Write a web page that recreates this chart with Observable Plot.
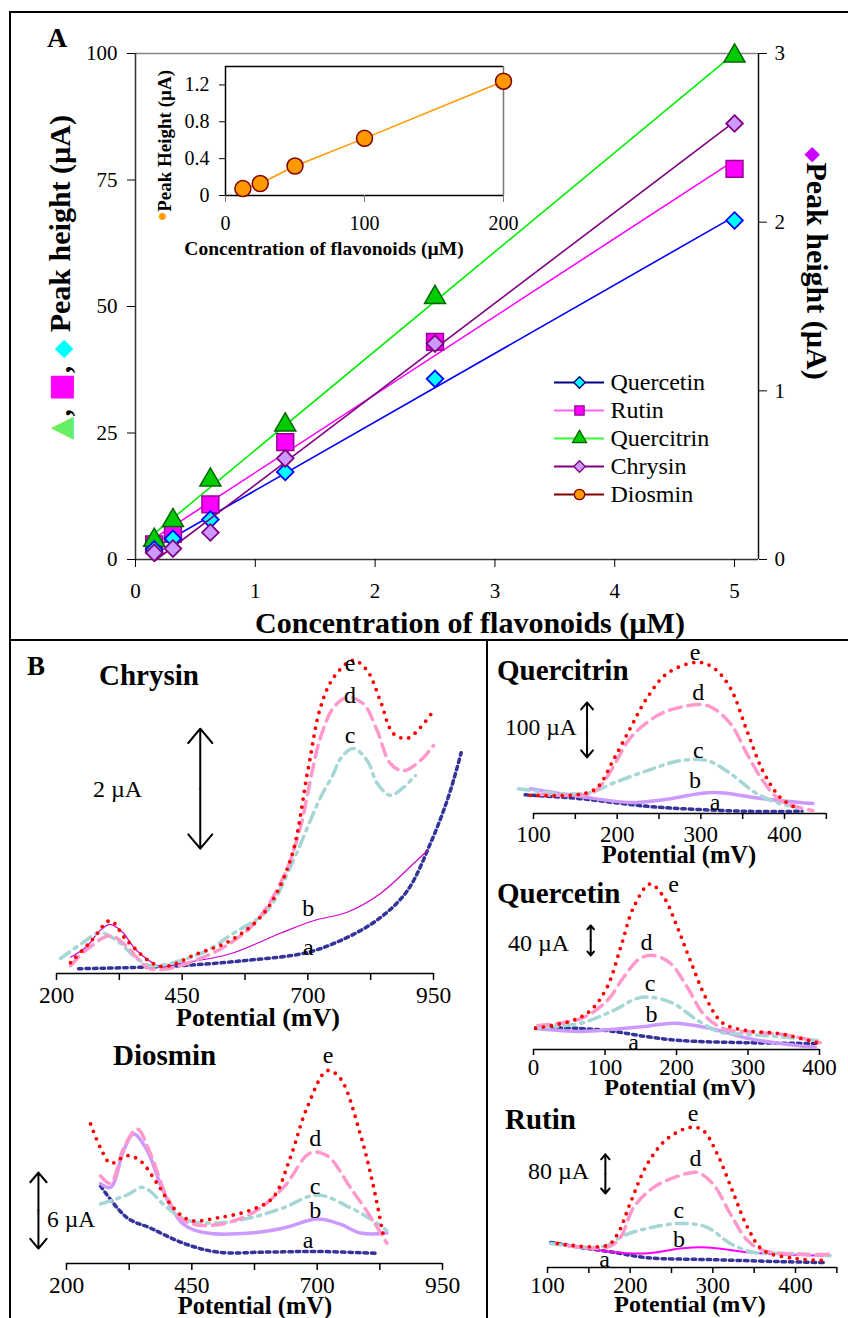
<!DOCTYPE html>
<html><head><meta charset="utf-8">
<script src="https://cdn.jsdelivr.net/npm/d3@7"></script>
<script src="https://cdn.jsdelivr.net/npm/@observablehq/plot@0.6"></script>
<style>
html,body{margin:0;padding:0;background:#fff;}
#root{position:relative;width:848px;height:1318px;overflow:hidden;background:#fff;}
#root svg{font-family:"Liberation Serif","Times New Roman",serif !important;overflow:visible;}
#root svg text{font-family:"Liberation Serif","Times New Roman",serif;}
</style></head><body><div id="root"></div>
<script>
// ---------------- DATA: panel A ----------------
const concentrations = [0.156, 0.3125, 0.625, 1.25, 2.5, 5];
const quercetinPeak  = [2.0, 4.1, 7.9, 17.3, 35.7, 67.0];
const rutinPeak      = [3.0, 5.1, 10.9, 23.2, 43.0, 77.2];
const quercitrinPeak = [3.8, 7.7, 15.7, 26.6, 51.8, 99.5];
const chrysinPeak    = [0.04, 0.065, 0.16, 0.60, 1.28, 2.585];   // right axis
const diosminConc    = [12.5, 25, 50, 100, 200];
const diosminPeak    = [0.075, 0.13, 0.32, 0.62, 1.24];
const mainYTicks = [0, 25, 50, 75, 100];
const mainXTicks = [0, 1, 2, 3, 4, 5];
const rightYTicks = [0, 1, 2, 3];
const insetYTicks = [0, 0.4, 0.8, 1.2];
const insetXTicks = [0, 100, 200];
const legendNames = ["Quercetin", "Rutin", "Quercitrin", "Chrysin", "Diosmin"];

// ---------------- DATA: panel B (potential mV, current µA) ----------------
const chrysinA = [[244,0.08],[353,0.1],[447,0.13],[580,0.22],[699,0.35],[778,0.6],[844,0.93],[898,1.38],[944,2.17],[977,2.88],[997,3.43],[1005,3.68]];
const chrysinB = [[228,0.27],[260,0.45],[287,0.72],[307,0.82],[330,0.7],[360,0.38],[407,0.12],[447,0.17],[546,0.33],[645,0.67],[711,0.88],[778,1.02],[844,1.33],[910,1.83],[938,2.05]];
const chrysinC = [[208,0.25],[250,0.5],[287,0.68],[320,0.55],[360,0.25],[387,0.13],[486,0.33],[552,0.67],[619,1.05],[671,1.88],[705,2.55],[725,2.93],[751,3.33],[765,3.58],[790,3.75],[818,3.55],[838,3.17],[864,2.97],[890,3.1],[914,3.3]];
const chrysinD = [[228,0.13],[260,0.4],[307,0.63],[340,0.45],[387,0.08],[486,0.25],[586,0.77],[651,1.6],[685,2.43],[705,3.22],[725,3.93],[751,4.43],[778,4.6],[810,4.5],[838,4.05],[864,3.5],[890,3.38],[924,3.55],[950,3.8]];
const chrysinE = [[228,0.18],[270,0.55],[307,0.88],[340,0.55],[407,0.12],[480,0.33],[546,0.55],[612,1.0],[665,1.88],[701,3.43],[725,4.43],[751,4.93],[790,5.22],[818,5.05],[844,4.55],[870,4.0],[898,3.92],[924,4.1],[950,4.38]];

const quercitrinA = [[90,34],[156,27],[195,20],[236,13],[275,9],[355,4],[421,4]];
const quercitrinB = [[96,45],[156,31],[216,20],[255,25],[315,38],[374,27],[434,18]];
const quercitrinC = [[82,45],[136,36],[168,38],[195,55],[236,78],[275,96],[308,96],[335,73],[367,36],[395,18],[419,11]];
const quercitrinD = [[105,35],[168,36],[180,50],[195,84],[216,138],[248,178],[275,193],[308,196],[335,164],[355,109],[374,60],[395,24],[434,5]];
const quercitrinE = [[96,33],[156,35],[176,47],[195,96],[216,156],[236,211],[260,255],[296,275],[315,265],[335,229],[355,151],[374,78],[395,29],[415,9]];

const quercetinA = [[3,29],[66,28],[112,24],[159,17],[205,12],[299,9],[397,8]];
const quercetinB = [[3,28],[66,24],[112,27],[159,31],[196,35],[243,29],[299,15],[345,8],[394,3]];
const quercetinC = [[6,29],[66,35],[112,52],[145,68],[168,69],[196,61],[229,39],[261,23],[299,20],[345,17],[397,12]];
const quercetinD = [[6,32],[66,41],[103,65],[126,96],[149,121],[168,125],[191,115],[215,83],[237,48],[265,28],[313,23],[355,19],[401,9]];
const quercetinE = [[3,28],[56,39],[80,52],[103,83],[122,136],[140,189],[163,220],[182,203],[201,163],[219,119],[243,65],[265,35],[299,25],[345,21],[397,9]];

const rutinA = [[104,51],[140,41],[180,31],[221,20],[300,16],[381,12],[438,10]];
const rutinB = [[104,49],[140,41],[180,31],[221,29],[261,39],[293,41],[342,31],[381,27],[442,24]];
const rutinC = [[104,49],[152,41],[172,45],[192,65],[221,80],[261,90],[293,82],[321,49],[349,31],[390,29],[442,24]];
const rutinD = [[124,45],[172,41],[188,61],[204,122],[228,163],[261,188],[281,194],[300,171],[321,110],[342,55],[361,35],[402,27],[442,27]];
const rutinE = [[112,49],[172,45],[185,69],[200,131],[221,212],[245,263],[273,286],[288,280],[305,233],[325,151],[342,82],[361,35],[402,18],[438,14]];

const diosminA = [[268,6.1],[321,3.6],[367,2.8],[433,1.6],[501,0.9],[600,0.9],[700,0.95],[820,0.8]];
const diosminB = [[268,6.3],[288,6.0],[314,8.9],[334,10.2],[361,8.9],[393,5.7],[433,3.1],[481,2.4],[567,2.4],[633,2.8],[700,3.5],[746,3.1],[786,2.4],[839,2.4]];
const diosminC = [[268,4.7],[321,5.4],[353,6.0],[401,4.4],[441,3.4],[501,3.2],[567,3.6],[633,4.4],[700,5.4],[766,4.4],[811,3.4],[839,2.6]];
const diosminD = [[268,6.9],[288,6.3],[314,9.1],[341,10.6],[367,8.7],[401,5.2],[433,3.4],[487,3.0],[567,3.9],[633,6.0],[686,8.7],[720,8.5],[766,6.0],[811,3.4],[839,1.6]];
const diosminE = [[248,11.0],[268,9.1],[288,7.9],[321,8.5],[347,8.1],[381,6.3],[413,4.4],[447,3.4],[501,3.6],[567,4.2],[612,5.2],[646,8.3],[680,12.3],[720,15.2],[746,14.6],[786,10.2],[811,6.3],[831,2.4]];

// scale bars: [potential, from µA, to µA]
const chrysinBar = [486, 2.08, 4.08];
const quercitrinBar = [164, 102, 202];
const quercetinBar = [80, 125, 165];
const rutinBar = [170, 151, 231];
const diosminBar = [144, 1.18, 7.17];

// curve labels: [letter, potential, µA]
const chrysinLabels = [["e",784,5.17],["d",784,4.63],["c",784,3.97],["b",701,1.08],["a",701,0.43]];
const quercitrinLabels = [["e",293,293],["d",297,220],["c",297,115],["b",293,60],["a",317,20]];
const quercetinLabels = [["e",196,219],["d",158,143],["c",163,88],["b",165,47],["a",140,9]];
const rutinLabels = [["e",276,314],["d",279,222],["c",259,116],["b",259,57],["a",169,16]];
const diosminLabels = [["e",722,16.4],["d",696,9.9],["c",696,6.1],["b",696,4.2],["a",682,1.8]];

const wideTicks = [200,325,450,575,700,825,950], wideLabels = [200,450,700,950];
const narrowTicks = [100,150,200,250,300,350,400,450], narrowLabels = [100,200,300,400];
const quercetinTicks = [0,100,200,300,400];

// ---------------- helpers ----------------
const SERIF = '"Liberation Serif", "Times New Roman", serif';
const root = document.getElementById("root");

function finish(svg, L, T, size) {
  svg.style.position = "absolute";
  svg.style.left = L + "px";
  svg.style.top = T + "px";
  svg.style.fontFamily = SERIF;
  svg.style.fontSize = size + "px";
  svg.style.overflow = "visible";
  svg.style.background = "transparent";
  svg.setAttribute("font-family", SERIF);
  root.appendChild(svg);
}

function addPlot(box, xs, ys, marks, opt = {}) {
  const [L, T, W, H] = box;
  const svg = Plot.plot({
    width: W, height: H,
    marginLeft: xs.px[0] - L, marginRight: L + W - xs.px[1],
    marginTop: ys.px[1] - T, marginBottom: T + H - ys.px[0],
    x: Object.assign({domain: xs.domain}, opt.xAxis ? {} : {axis: null}),
    y: Object.assign({domain: ys.domain}, opt.yAxis ? {} : {axis: null}),
    marks
  });
  finish(svg, L, T, opt.fontSize || 21);
}

const rows = (xs, ys) => xs.map((c, i) => ({c, v: ys[i]}));
const F = {fontFamily: SERIF};

// ---------------- Panel A: left-axis series ----------------
const qRows = rows(concentrations, quercetinPeak);
const rRows = rows(concentrations, rutinPeak);
const tRows = rows(concentrations, quercitrinPeak);
const cRows = rows(concentrations, chrysinPeak);
const dRows = rows(diosminConc, diosminPeak);

const mainX = {domain: [0, 5.2], px: [135, 758]};
const boxA = [0, 0, 848, 640];

addPlot(boxA, mainX, {domain: [0, 100], px: [559, 53]}, [
  Plot.ruleY([100], {stroke: "#888", strokeWidth: 1.5}),
  Plot.ruleX([0], {stroke: "#333", strokeWidth: 1.5}),
  Plot.ruleY([0], {stroke: "#333", strokeWidth: 1.5}),
  Plot.axisY({...F, ticks: mainYTicks, tickFormat: d => String(d), tickSize: 8, tickPadding: 10, label: null, fontSize: 21}),
  Plot.axisX({...F, ticks: mainXTicks, tickFormat: d => String(d), tickSize: 8, tickPadding: 16, label: null, fontSize: 21}),
  Plot.linearRegressionY(qRows, {x: "c", y: "v", stroke: "#0000ff", strokeWidth: 1.6, ci: 0}),
  Plot.linearRegressionY(rRows, {x: "c", y: "v", stroke: "#ff00ff", strokeWidth: 1.6, ci: 0}),
  Plot.linearRegressionY(tRows, {x: "c", y: "v", stroke: "#00ee00", strokeWidth: 1.6, ci: 0}),
  Plot.dot(rRows, {x: "c", y: "v", symbol: "square", r: 9.5, fill: "#ff00ff", stroke: "#990099", strokeWidth: 1.5}),
  Plot.dot(tRows, {x: "c", y: "v", symbol: "triangle", r: 7.8, fill: "#00cc00", stroke: "#006600", strokeWidth: 1.5}),
  Plot.dot(qRows, {x: "c", y: "v", symbol: "diamond2", r: 7.5, fill: "#00ffff", stroke: "#0000ff", strokeWidth: 1.8})
], {xAxis: true, yAxis: true});

// Panel A: right-axis series (Chrysin)
addPlot(boxA, mainX, {domain: [0, 3], px: [559, 53]}, [
  Plot.ruleX([5.2], {stroke: "#111", strokeWidth: 1.5}),
  Plot.axisY({...F, anchor: "right", ticks: rightYTicks, tickFormat: d => String(d), tickSize: 8, tickPadding: 8, label: null, fontSize: 21}),
  Plot.linearRegressionY(cRows, {x: "c", y: "v", stroke: "#800080", strokeWidth: 1.6, ci: 0}),
  Plot.dot(cRows, {x: "c", y: "v", symbol: "diamond2", r: 7.5, fill: "#cc99ff", stroke: "#800080", strokeWidth: 1.8})
], {yAxis: true});

// Inset (Diosmin)
addPlot([140, 55, 400, 215], {domain: [0, 200], px: [225, 503]}, {domain: [0, 1.4], px: [195, 66]}, [
  Plot.ruleY([1.4], {stroke: "#000", strokeWidth: 1.5}),
  Plot.ruleX([200], {stroke: "#777", strokeWidth: 1.5}),
  Plot.ruleX([0], {stroke: "#000", strokeWidth: 1.5}),
  Plot.ruleY([0], {stroke: "#000", strokeWidth: 1.5}),
  Plot.axisY({...F, ticks: insetYTicks, tickFormat: d => d === 0 ? "0" : d.toFixed(1), tickSize: 6, tickPadding: 10, label: null, fontSize: 20}),
  Plot.axisX({...F, ticks: insetXTicks, tickFormat: d => String(d), tickSize: 7, tickPadding: 13, label: null, fontSize: 20, stroke: "#777"}),
  Plot.line(dRows, {x: "c", y: "v", stroke: "#ff9900", strokeWidth: 1.6}),
  Plot.dot(dRows, {x: "c", y: "v", r: 8, fill: "#ff9900", stroke: "#800000", strokeWidth: 1.5})
], {xAxis: true, yAxis: true, fontSize: 20});

// Legend
{
  const lineColors = ["#000080", "#ff66ff", "#33ff33", "#800080", "#800000"];
  const symbols = ["diamond2", "square", "triangle", "diamond2", "circle"];
  const fills = ["#00ffff", "#ff00ff", "#00cc00", "#cc99ff", "#ff9900"];
  const strokes = ["#000080", "#990099", "#006600", "#800080", "#800000"];
  const svg = Plot.plot({
    width: 240, height: 180, margin: 0,
    x: {domain: [0, 1], range: [14, 64], axis: null},
    y: {type: "point", domain: legendNames, range: [22, 163], axis: null},
    marks: [
      ...legendNames.flatMap((n, i) => [
        Plot.ruleY([n], {x1: 0, x2: 1, stroke: lineColors[i], strokeWidth: 2}),
        Plot.dot([n], {x: 0.5, y: d => d, symbol: symbols[i], r: 5.2, fill: fills[i], stroke: strokes[i], strokeWidth: 1.3})
      ]),
      Plot.text(legendNames, {...F, x: 1, y: d => d, text: d => d, textAnchor: "start", dx: 6, fontSize: 24})
    ]
  });
  finish(svg, 540, 345, 24);
}

// ---------------- Panel B spectra ----------------
const sA = {stroke: "#333399", strokeWidth: 3.5, strokeDasharray: "3.5 4"};
const sC = {stroke: "#a6d6d6", strokeWidth: 3.5, strokeDasharray: "11 6 3 6"};
const sD = {stroke: "#ff99cc", strokeWidth: 3.5, strokeDasharray: "12 7"};
const sE = {stroke: "#ff0000", strokeWidth: 3.8, strokeDasharray: "0 8", strokeLinecap: "round"};
const bLilac = {stroke: "#cc99ff", strokeWidth: 3.5};

function spectrum(box, xs, ys, curves, bStyle, ticks, tickLabels, tickSize, tickPadding, labels, bar, fontSize, head) {
  const xy = {x: d => d[0], y: d => d[1], curve: "catmull-rom"};
  const mid = (bar[1] + bar[2]) / 2;
  const arrowOpt = {stroke: "#000", strokeWidth: 2, headLength: head, headAngle: 80};
  addPlot(box, xs, ys, [
    Plot.ruleY([0], {x1: ticks[0], x2: ticks[ticks.length - 1], stroke: "#000", strokeWidth: 1.6}),
    Plot.axisX({...F, ticks, tickFormat: d => tickLabels.includes(d) ? String(d) : "", tickSize, tickPadding, label: null, fontSize, strokeWidth: 1.5}),
    Plot.line(curves[0], {...xy, ...sA}),
    Plot.line(curves[1], {...xy, ...bStyle}),
    Plot.line(curves[2], {...xy, ...sC}),
    Plot.line(curves[3], {...xy, ...sD}),
    Plot.line(curves[4], {...xy, ...sE}),
    Plot.text(labels, {...F, x: d => d[1], y: d => d[2], text: d => d[0], fontSize: 24}),
    Plot.arrow([bar], {x1: d => d[0], x2: d => d[0], y1: () => mid, y2: d => d[1], ...arrowOpt}),
    Plot.arrow([bar], {x1: d => d[0], x2: d => d[0], y1: () => mid, y2: d => d[2], ...arrowOpt})
  ], {xAxis: true, fontSize});
}

spectrum([0, 641, 486, 394], {domain: [200, 950], px: [56, 433]}, {domain: [0, 5.3], px: [973, 655]},
  [chrysinA, chrysinB, chrysinC, chrysinD, chrysinE], {stroke: "#cc00cc", strokeWidth: 1.2},
  wideTicks, wideLabels, 7, 6, chrysinLabels, chrysinBar, 23.5, 14);

spectrum([488, 641, 360, 232], {domain: [100, 400], px: [533, 784]}, {domain: [0, 280], px: [813, 659]},
  [quercitrinA, quercitrinB, quercitrinC, quercitrinD, quercitrinE], bLilac,
  narrowTicks, narrowLabels, 6, 6, quercitrinLabels, quercitrinBar, 23, 12);

spectrum([488, 873, 360, 207], {domain: [0, 400], px: [533, 819]}, {domain: [0, 230], px: [1049, 876]},
  [quercetinA, quercetinB, quercetinC, quercetinD, quercetinE], bLilac,
  quercetinTicks, quercetinTicks, 6, 3, quercetinLabels, quercetinBar, 23, 10);

spectrum([488, 1080, 360, 238], {domain: [100, 400], px: [547, 795]}, {domain: [0, 300], px: [1267, 1120]},
  [rutinA, rutinB, rutinC, rutinD, rutinE], {stroke: "#ff00ff", strokeWidth: 2},
  narrowTicks, narrowLabels, 6, 3, rutinLabels, rutinBar, 23, 11);

spectrum([0, 1035, 486, 283], {domain: [200, 950], px: [66, 442]}, {domain: [0, 16], px: [1263, 1060]},
  [diosminA, diosminB, diosminC, diosminD, diosminE], bLilac,
  wideTicks, wideLabels, 7, 6, diosminLabels, diosminBar, 23.5, 13);

// ---------------- Annotations (titles, axis titles, frame) ----------------
const ann = d3.select(root).append("svg")
  .attr("width", 848).attr("height", 1318)
  .style("position", "absolute").style("left", "0").style("top", "0")
  .style("pointer-events", "none")
  .attr("font-family", SERIF);

const frameLines = [[9,12,848,12],[10,11,10,1318],[9,640,848,640],[487,640,487,1318]];
ann.selectAll("line").data(frameLines).join("line")
  .attr("x1", d => d[0]).attr("y1", d => d[1]).attr("x2", d => d[2]).attr("y2", d => d[3])
  .attr("stroke", "#000").attr("stroke-width", 2);

function T(text, x, y, size, bold, anchor = "start") {
  return ann.append("text").attr("x", x).attr("y", y).attr("font-size", size)
    .attr("font-weight", bold ? "bold" : "normal").attr("text-anchor", anchor).attr("fill", "#000").text(text);
}
T("A", 47, 47, 28, true);
T("B", 27, 675, 27, true);
T("Concentration of flavonoids (µM)", 470, 633, 30, true, "middle");
T("Concentration of flavonoids (µM)", 324, 255, 19.5, true, "middle");

T("Chrysin", 99, 685, 29, true);
T("2 µA", 93, 797, 24, false);
T("Potential (mV)", 258, 1026, 26, true, "middle");
T("Quercitrin", 497, 680, 29, true);
T("100 µA", 505, 735, 23.5, false);
T("Potential (mV)", 679, 863, 24.5, true, "middle");
T("Quercetin", 497, 903, 29, true);
T("40 µA", 508, 951, 24, false);
T("Potential (mV)", 680, 1095, 24, true, "middle");
T("Rutin", 505, 1129, 29, true);
T("80 µA", 528, 1179, 24, false);
T("Potential (mV)", 690, 1312, 24, true, "middle");
T("Diosmin", 113, 1065, 29, true);
T("6 µA", 47, 1227, 23.5, false);
T("Potential (mV)", 255, 1314, 24.5, true, "middle");

// left rotated axis title with marker glyphs
{
  const t = ann.append("text").attr("transform", "translate(70,115) rotate(-90)")
    .attr("text-anchor", "end").attr("font-size", 30).attr("font-weight", "bold").attr("fill", "#000");
  t.append("tspan").attr("fill", "#66ee66").attr("font-family", "DejaVu Sans").text("▲");
  t.append("tspan").text(", ");
  t.append("tspan").attr("fill", "#ff00ff").attr("font-family", "DejaVu Sans").text("■");
  t.append("tspan").text(", ");
  t.append("tspan").attr("fill", "#00ffff").attr("font-family", "DejaVu Sans").attr("font-size", 24).text("◆");
  t.append("tspan").text(" Peak height (µA)");
}
// right rotated axis title
{
  const t = ann.append("text").attr("transform", "translate(807,147) rotate(90)")
    .attr("text-anchor", "start").attr("font-size", 30).attr("font-weight", "bold").attr("fill", "#000");
  t.append("tspan").attr("fill", "#cc00ff").attr("font-family", "DejaVu Sans").attr("font-size", 20).text("◆");
  t.append("tspan").text("Peak height (µA)");
}
// inset rotated axis title
{
  const t = ann.append("text").attr("transform", "translate(171,70) rotate(-90)")
    .attr("text-anchor", "end").attr("font-size", 19).attr("font-weight", "bold").attr("fill", "#000");
  t.append("tspan").attr("fill", "#ff9900").attr("font-size", 26).text("•");
  t.append("tspan").text("Peak Height (µA)");
}
</script></body></html>
